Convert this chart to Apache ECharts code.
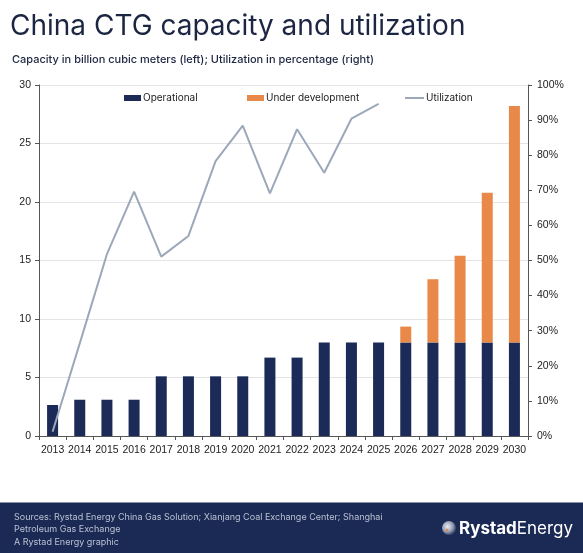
<!DOCTYPE html>
<html>
<head>
<meta charset="utf-8">
<title>China CTG capacity and utilization</title>
<script src="https://cdn.jsdelivr.net/npm/echarts@6/dist/echarts.min.js"></script>
<style>
  html, body { margin: 0; padding: 0; background: #fff; }
  #chart { width: 583px; height: 553px; }
</style>
</head>
<body>
<div id="chart"></div>
<script>
(function (window) {
  'use strict';

  // values
  var years = ['2013', '2014', '2015', '2016', '2017', '2018', '2019', '2020', '2021',
               '2022', '2023', '2024', '2025', '2026', '2027', '2028', '2029', '2030'];
  var operational = [2.65, 3.1, 3.1, 3.1, 5.1, 5.1, 5.1, 5.1, 6.7,
                     6.7, 8, 8, 8, 8, 8, 8, 8, 8];
  var underDevelopment = [0, 0, 0, 0, 0, 0, 0, 0, 0,
                          0, 0, 0, 0, 1.35, 5.4, 7.4, 12.8, 20.2];
  // utilization %, no value after 2025
  var utilization = [1.2, 26.4, 51.8, 69.6, 51.1, 57, 78.3, 88.4, 69.1,
                     87.4, 75, 90.4, 94.6, '-', '-', '-', '-', '-'];

  var navy = '#1b2a57';
  var orange = '#e8894a';
  var grey = '#9ca8ba';
  var axisColor = '#555';
  var font = 'Inter, "Liberation Sans", Arial, sans-serif';
  var tickFont = '"Liberation Sans", Arial, sans-serif';

  var myChart = echarts.init(document.getElementById('chart'));

  function legendAt(left, name, w, h) {
    return {
      left: left,
      top: 93,
      padding: 0,
      data: [name],
      itemWidth: w,
      itemHeight: h,
      icon: 'rect',
      itemGap: 0,
      textStyle: { color: '#222', fontSize: 10, fontFamily: font, padding: [0, 0, 0, -3] }
    };
  }

  var option = {
    animation: false,
    title: [{
      text: 'China CTG capacity and utilization',
      left: 10,
      top: 13,
      padding: 0,
      textStyle: { color: '#1c2541', fontSize: 28, fontWeight: 'normal', fontFamily: font }
    }, {
      text: 'Capacity in billion cubic meters (left); Utilization in percentage (right)',
      left: 12,
      top: 54,
      padding: 0,
      textStyle: { color: '#1c2541', fontSize: 11, fontWeight: 500, fontFamily: font }
    }],
    legend: [
      legendAt(124, 'Operational', 17, 6),
      legendAt(247, 'Under development', 17, 6),
      legendAt(405, 'Utilization', 19, 2)
    ],
    grid: { left: 39, right: 55, top: 85, bottom: 117 },
    xAxis: {
      type: 'category',
      data: years,
      boundaryGap: true,
      axisLine: { lineStyle: { color: axisColor, width: 1 } },
      axisTick: { show: true, alignWithLabel: false, length: 4, lineStyle: { color: axisColor } },
      axisLabel: { color: '#222', fontSize: 10.5, fontFamily: tickFont, margin: 9, interval: 0 }
    },
    yAxis: [{
      type: 'value',
      min: 0,
      max: 30,
      interval: 5,
      axisLine: { show: true, lineStyle: { color: axisColor, width: 1 } },
      axisTick: { show: true, length: 4, lineStyle: { color: axisColor } },
      axisLabel: { color: '#222', fontSize: 10.5, fontFamily: tickFont, margin: 8 },
      splitLine: { show: true, lineStyle: { color: '#e4e4e4', width: 1 } }
    }, {
      type: 'value',
      min: 0,
      max: 100,
      interval: 10,
      position: 'right',
      axisLine: { show: true, lineStyle: { color: axisColor, width: 1 } },
      axisTick: { show: true, length: 4, lineStyle: { color: axisColor } },
      axisLabel: { color: '#222', fontSize: 10.5, fontFamily: tickFont, margin: 9, formatter: '{value}%' },
      splitLine: { show: false }
    }],
    series: [{
      name: 'Operational',
      type: 'bar',
      stack: 'capacity',
      barWidth: 11,
      itemStyle: { color: navy },
      data: operational
    }, {
      name: 'Under development',
      type: 'bar',
      stack: 'capacity',
      barWidth: 11,
      itemStyle: { color: orange },
      data: underDevelopment
    }, {
      name: 'Utilization',
      type: 'line',
      yAxisIndex: 1,
      showSymbol: false,
      symbol: 'none',
      lineStyle: { color: grey, width: 2 },
      itemStyle: { color: grey },
      data: utilization,
      z: 5
    }],
    graphic: [{
      type: 'rect',
      shape: { x: 0, y: 503, width: 583, height: 50 },
      style: { fill: '#1b2a54' }
    }, {
      type: 'rect',
      shape: { x: 0, y: 502, width: 583, height: 1 },
      style: { fill: '#8a93a8' }
    }, {
      type: 'text',
      x: 14,
      y: 511,
      style: {
        text: 'Sources: Rystad Energy China Gas Solution; Xianjang Coal Exchange Center; Shanghai\nPetroleum Gas Exchange\nA Rystad Energy graphic',
        fill: '#b9c1d3',
        font: '9px ' + font,
        lineHeight: 12.5
      }
    }, {
      type: 'circle',
      shape: { cx: 449, cy: 528, r: 7 },
      style: {
        fill: {
          type: 'radial', x: 0.4, y: 0.4, r: 0.6,
          colorStops: [{ offset: 0, color: '#e9ecf3' }, { offset: 0.6, color: '#9aa3b8' }, { offset: 1, color: '#3b4766' }]
        }
      }
    }, {
      type: 'circle',
      shape: { cx: 447, cy: 530, r: 1.3 },
      style: { fill: '#e8894a' }
    }, {
      type: 'text',
      x: 459,
      y: 520,
      style: {
        rich: {
          b: { fontWeight: 'bold', fontSize: 17, fontFamily: font, fill: '#fff' },
          n: { fontWeight: 'normal', fontSize: 17, fontFamily: font, fill: '#fff' }
        },
        text: '{b|Rystad}{n|Energy}'
      }
    }]
  };

  myChart.setOption(option);
})(window);
</script>
</body>
</html>
